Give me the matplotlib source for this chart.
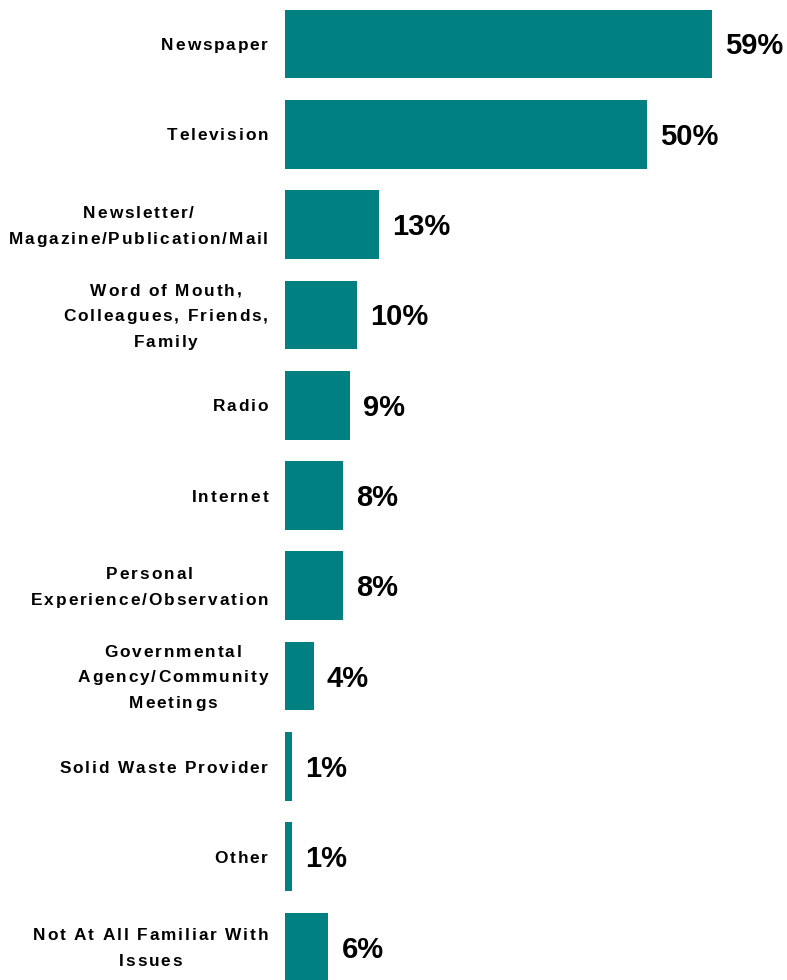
import matplotlib
matplotlib.use('Agg')
import matplotlib.pyplot as plt
from matplotlib.font_manager import FontProperties, findfont
from matplotlib.ft2font import FT2Font

#--------------------------------DATA----
categories = ['Newspaper',
              'Television',
              'Newsletter/\nMagazine/Publication/Mail',
              'Word of Mouth,\nColleagues, Friends,\nFamily',
              'Radio',
              'Internet',
              'Personal\nExperience/Observation',
              'Governmental\nAgency/Community\nMeetings',
              'Solid Waste Provider',
              'Other',
              'Not At All Familiar With\nIssues']
values = [59, 50, 13, 10, 9, 8, 8, 4, 1, 1, 6]

#--------------------------------LAYOUT----
W, H, DPI = 787, 980, 100
LEFT = 285            # px where the bars start
PX_PER_PCT = 7.24
ROW = 90.3            # px between bar centres
TOP = 44              # px from top to first bar centre
TEAL = '#008080'

fig = plt.figure(figsize=(W / DPI, H / DPI), dpi=DPI)
ax = fig.add_axes([LEFT / W, 0, 1 - LEFT / W, 1])
ypos = list(range(len(values)))
ax.barh(ypos, values, height=0.76, color=TEAL)
ax.set_xlim(0, (W - LEFT) / PX_PER_PCT)
ax.set_ylim((H - TOP) / ROW, -TOP / ROW)
ax.axis('off')

# value labels
for y, v in zip(ypos, values):
    ax.annotate('%d%%' % v, xy=(v, y), xytext=(13 * 0.72, -10.5 * 0.72),
                textcoords='offset points', ha='left', va='baseline',
                fontsize=21, fontweight='bold', family='Liberation Sans')

#--------------------------------CATEGORY LABELS (letter spaced)----
LABEL_PT = 12.4
TRACK = 1.9       # extra px between letters
PITCH = 25.5      # px between lines
RIGHT = 268       # right edge of the label block
prop = FontProperties(family='Liberation Sans', weight='bold', size=LABEL_PT)
ft = FT2Font(findfont(prop))
ft.set_size(LABEL_PT, DPI)


def advances(s):
    return [ft.load_char(ord(c)).linearHoriAdvance / 65536 for c in s]


def line_width(s):
    a = advances(s)
    return sum(a) + TRACK * (len(s) - 1)


cap_h = 0.716 * LABEL_PT * DPI / 72
for y, cat in zip(ypos, categories):
    yc = ax.transData.transform((0, y))[1]   # display px from bottom
    lines = cat.split('\n')
    block_w = max(line_width(l) for l in lines)
    centre_x = RIGHT - block_w / 2
    n = len(lines)
    for k, line in enumerate(lines):
        base = yc + ((n - 1) / 2 - k) * PITCH - cap_h / 2
        x = centre_x - line_width(line) / 2
        for c, a in zip(line, advances(line)):
            if c != ' ':
                fig.text(x / W, base / H, c, fontproperties=prop,
                         ha='left', va='baseline')
            x += a + TRACK

fig.savefig('out.png', dpi=DPI)
